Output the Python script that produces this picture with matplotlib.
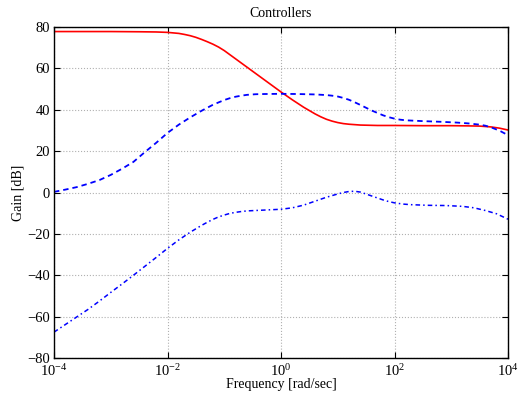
import matplotlib
matplotlib.use("Agg")
import matplotlib.pyplot as plt
import numpy as np
from matplotlib.ticker import NullLocator, FixedLocator

plt.rcParams['font.family'] = ['Liberation Serif', 'DejaVu Serif']
plt.rcParams['mathtext.fontset'] = 'custom'
plt.rcParams['mathtext.rm'] = 'Liberation Serif'
plt.rcParams['mathtext.it'] = 'Liberation Serif:italic'
plt.rcParams['axes.unicode_minus'] = True

# Data (frequency exponents, log10 rad/sec; gains in dB)
red_logw = [-4, -3, -2.5, -2.2, -2.0, -1.8, -1.7, -1.6, -1.5, -1.4, -1.3, -1.2, -1.1, -1.0,
            -0.8, -0.6, -0.4, -0.2, 0, 0.2, 0.4, 0.6, 0.7, 0.8, 0.9, 1.0, 1.1, 1.2, 1.4, 1.7,
            2, 2.5, 3, 3.3, 3.5, 3.7, 3.85, 4]
red_gain = [77.8, 77.8, 77.7, 77.6, 77.4, 76.9, 76.4, 75.8, 75.0, 74.0, 72.9, 71.7, 70.3,
            68.6, 64.6, 60.6, 56.6, 52.6, 48.6, 44.8, 41.2, 38.0, 36.6, 35.4, 34.5, 33.8,
            33.3, 33.0, 32.6, 32.4, 32.4, 32.3, 32.3, 32.2, 32.1, 31.7, 31.1, 30.2]

upper_logw = [-4, -3.8, -3.6, -3.4, -3.2, -3.0, -2.8, -2.6, -2.4, -2.2, -2.0, -1.8, -1.6, -1.4,
              -1.2, -1.0, -0.9, -0.8, -0.7, -0.6, -0.45, -0.3, 0, 0.3, 0.6, 0.8, 0.9, 1.0, 1.1,
              1.2, 1.3, 1.4, 1.6, 1.8, 1.9, 2.0, 2.1, 2.2, 2.5, 2.8, 3.1, 3.3, 3.5, 3.6, 3.7,
              3.85, 4]
upper_gain = [0.3, 1.4, 2.6, 4.2, 6.0, 8.5, 11.5, 14.8, 19.5, 24.0, 28.8, 32.8, 36.3, 39.5,
              42.4, 44.7, 45.6, 46.3, 46.8, 47.2, 47.5, 47.6, 47.7, 47.6, 47.4, 47.1, 46.8,
              46.4, 45.7, 44.8, 43.6, 42.3, 39.6, 37.3, 36.4, 35.7, 35.2, 34.9, 34.5, 34.2,
              33.8, 33.4, 32.8, 32.3, 31.5, 29.9, 27.7]

lower_logw = [-4, -3.7, -3.4, -3.2, -3.0, -2.8, -2.6, -2.4, -2.2, -2.0, -1.8, -1.6, -1.4, -1.3,
              -1.2, -1.1, -1.0, -0.9, -0.8, -0.7, -0.6, -0.3, 0.0, 0.2, 0.4, 0.6, 0.8, 1.0,
              1.1, 1.2, 1.3, 1.4, 1.6, 1.8, 1.9, 2.0, 2.15, 2.3, 2.6, 2.9, 3.2, 3.4, 3.6, 3.8,
              4.0]
lower_gain = [-67.5, -62.0, -56.5, -52.5, -48.3, -44.2, -40.0, -35.7, -31.4, -27.0, -22.9,
              -19.2, -15.9, -14.4, -13.0, -11.8, -10.9, -10.1, -9.6, -9.2, -8.9, -8.5, -8.1,
              -7.4, -6.1, -4.2, -2.3, -0.7, 0.0, 0.5, 0.6, 0.2, -1.7, -3.6, -4.4, -5.0, -5.6,
              -5.9, -6.2, -6.3, -6.7, -7.4, -8.7, -10.3, -12.9]

xticks = [1e-4, 1e-2, 1e0, 1e2, 1e4]
yticks = [-80, -60, -40, -20, 0, 20, 40, 60, 80]

fig = plt.figure(figsize=(5.22, 4.01), dpi=100)
ax = fig.add_axes([54/522, 1-358/401, (508-54)/522, (358-27)/401])

ax.semilogx(10**np.array(red_logw), red_gain, color='#ff0000', lw=1.2, ls='-')
ax.semilogx(10**np.array(upper_logw), upper_gain, color='#0000ff', lw=1.3, ls=(0, (3, 2.2)))
ax.semilogx(10**np.array(lower_logw), lower_gain, color='#0000ff', lw=1.1, ls=(0, (3, 2, 1, 2)))

ax.set_xlim(1e-4, 1e4)
ax.set_ylim(-80, 80)
ax.xaxis.set_major_locator(FixedLocator(xticks))
ax.xaxis.set_minor_locator(NullLocator())
ax.set_yticks(yticks)

ax.grid(True, which='major', color='#b0b0b0', ls=':', lw=0.8)
ax.tick_params(direction='in', length=4, width=0.8, top=True, right=True,
               labelsize=10.5, colors='black', pad=3)
ax.tick_params(axis='x', pad=4)
for s in ax.spines.values():
    s.set_linewidth(1.0)
    s.set_color('black')

ax.set_title('Controllers', fontsize=10, pad=7)
ax.set_xlabel('Frequency [rad/sec]', fontsize=10, labelpad=-1)
ax.set_ylabel('Gain [dB]', fontsize=10, labelpad=2)

fig.savefig('out.png', dpi=100)
